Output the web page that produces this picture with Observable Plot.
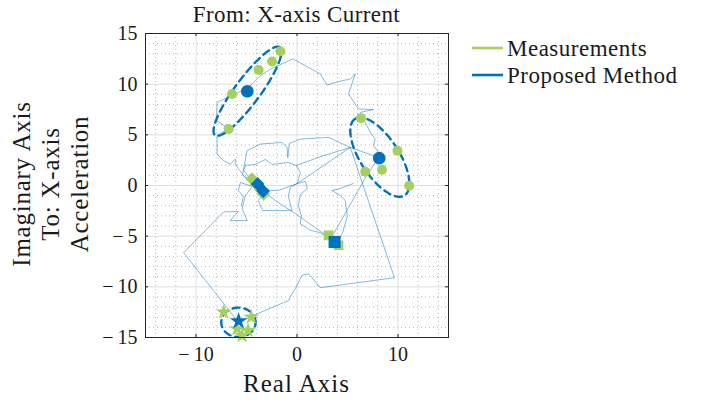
<!DOCTYPE html>
<html>
<head>
<meta charset="utf-8">
<script src="https://cdn.jsdelivr.net/npm/d3@7"></script>
<script src="https://cdn.jsdelivr.net/npm/@observablehq/plot@0.6"></script>
<style>
  html, body { margin: 0; padding: 0; background: #fff; }
  #chart { width: 713px; height: 405px; }
</style>
</head>
<body>
<div id="chart"></div>
<script>
// Frequency-response trace (real, imaginary) drawn as several polyline pieces
const tracePieces = [
  // upper-left arm
  [[8.07,3.26],[7.58,3.93],[7.74,4.58],[7.25,5.24],[6.92,5.90],[6.26,7.22],[7.58,7.49],[6.09,7.55],
   [5.10,9.03],[5.77,11.01],[5.27,10.51],[4.11,10.26],[2.97,9.92],[2.30,11.01],[-0.40,12.50],
   [-1.48,12.0],[-2.47,11.57],[-3.63,10.85],[-4.79,9.69],[-6.43,8.87],[-7.91,8.21],[-7.98,6.43],
   [-6.77,5.61],[-7.91,4.95],[-7.91,3.10],[-7.26,2.44],[-6.60,2.11],[-6.10,2.60],[-6.10,2.11],
   [-5.78,1.61],[-5.11,0.79],[-4.42,0.49]],
  // loop over the centre to the right-hand cluster, then down to the square cluster
  [[-4.12,0.20],[-5.31,1.48],[-4.95,3.43],[-3.63,4.09],[-1.48,4.25],[-0.99,3.76],[-0.91,2.77],
   [-0.76,4.15],[0.33,4.58],[3.13,4.75],[5.27,3.76],[8.07,2.77],[6.85,0.89],[3.62,-4.78]],
  // square cluster back through the centre, large outer excursions, star cluster
  [[3.62,-5.44],[-0.17,-2.77],[-2.15,-1.48],[-3.43,-0.49],[-1.85,-0.49],[0.03,0.20],[5.27,3.76],
   [9.65,-9.10],[2.30,-10.09],[1.15,-8.70],[0.49,-8.87],[-0.17,-10.19],[-0.49,-10.68],[-0.83,-11.35],
   [-4.42,-12.86],[-5.78,-13.52],[-11.22,-6.63],[-7.26,-2.60],[-5.81,-2.57],[-6.60,-3.46],
   [-4.92,-3.46],[-5.44,-2.27],[-5.11,-0.99],[-4.42,-0.10]],
  // inner loop around the diamond cluster
  [[-3.83,-0.49],[-5.41,1.09],[-5.11,1.98],[-4.12,2.08],[-3.14,2.57],[-2.44,2.08],[-0.86,2.27],
   [-0.07,1.98],[0.33,1.29],[0.03,0.20],[-0.66,-0.20],[-0.86,-1.09],[-0.49,-2.44],[-1.75,-2.47],
   [-3.43,-2.47],[-3.83,-1.48],[-3.43,-0.99]],
  [[-0.07,1.98],[2.50,2.90],[5.27,3.76]],
  // curls leading into the square cluster
  [[0.03,0.20],[0.82,0.40],[1.02,-0.30],[0.33,-0.89],[0.13,-1.98],[0.43,-2.97],[0.33,-3.76],
   [1.32,-4.42],[2.30,-4.65],[3.10,-5.14],[3.69,-6.03],[4.08,-6.13]],
  [[5.57,0.20],[4.28,-0.30],[3.46,-0.49],[4.28,-0.99],[4.78,-1.48],[4.98,-3.07],[4.48,-4.75],[4.08,-5.44]],
  // small wiggle left of the diamond cluster
  [[-4.42,-0.10],[-5.61,0.30],[-5.81,-0.49],[-5.31,-1.09],[-5.51,-1.98]]
];

// Measured poles, grouped by marker symbol
const measCircle  = [[-1.65,13.25],[-2.47,12.23],[-3.80,11.41],[-6.43,9.03],[-6.77,5.57],
                     [6.33,6.63],[9.95,3.43],[6.76,1.35],[8.41,1.55],[11.11,-0.03]];
const measDiamond = [[-4.45,0.65],[-4.05,0.15],[-3.60,-0.40],[-3.30,-0.85]];
const measSquare  = [[3.13,-4.92],[4.11,-5.90]];
const measStar    = [[-7.26,-12.49],[-4.52,-12.99],[-5.93,-14.14],[-4.85,-14.31],[-5.44,-14.80]];

// Estimated poles from the proposed method
const estCircle  = [[-4.92,9.30],[8.14,2.70]];
const estDiamond = [[-3.90,0.15],[-3.35,-0.55]];
const estSquare  = [[3.72,-5.57]];
const estStar    = [[-5.78,-13.38]];

// Uncertainty ellipses: centre x, centre y, semi-axis a, semi-axis b, rotation (deg)
const ellCx    = [-4.90, 8.20, -5.80];
const ellCy    = [9.30, 2.80, -13.50];
const ellA     = [5.40, 4.50, 1.70];
const ellB     = [1.25, 1.90, 1.45];
const ellAngle = [53.5, 123, 0];

const xMajor = [-10, 0, 10];
const yMajor = [-15, -10, -5, 0, 5, 10, 15];
const xMinor = [-14, -12, -8, -6, -4, -2, 2, 4, 6, 8, 12, 14];
const yMinor = d3.range(-15, 16).filter(v => v % 5 !== 0);

const green = "#a6cf5d";
const blue = "#0072BD";
const serif = "'Liberation Serif', 'DejaVu Serif', serif";
const tickFmt = d => (d < 0 ? "\u2212\u2009" : "") + Math.abs(d);

const trace = tracePieces.flatMap((pts, i) => pts.map(([x, y]) => ({x, y, piece: i})));
const toRows = arr => arr.map(([x, y]) => ({x, y}));

const ellipses = ellCx.flatMap((cx, i) => {
  const t = (ellAngle[i] * Math.PI) / 180;
  return d3.range(0, 361, 3).map(deg => {
    const u = (deg * Math.PI) / 180;
    const ex = ellA[i] * Math.cos(u), ey = ellB[i] * Math.sin(u);
    return {x: cx + ex * Math.cos(t) - ey * Math.sin(t),
            y: ellCy[i] + ex * Math.sin(t) + ey * Math.cos(t), id: i};
  });
});

const chart = Plot.plot({
  width: 713,
  height: 405,
  marginLeft: 145,
  marginRight: 265,
  marginTop: 33,
  marginBottom: 68,
  style: {fontFamily: serif, fontSize: "20px", color: "#1a1a1a", background: "#fff"},
  x: {domain: [-15, 15], ticks: xMajor, tickSize: 0, tickPadding: 9, tickFormat: tickFmt, label: null},
  y: {domain: [-15, 15], ticks: yMajor, tickSize: 0, tickPadding: 8, tickFormat: tickFmt, label: null},
  marks: [
    Plot.ruleX(xMinor, {stroke: "#b5b5b5", strokeDasharray: "1,3", strokeWidth: 1}),
    Plot.ruleY(yMinor, {stroke: "#b5b5b5", strokeDasharray: "1,3", strokeWidth: 1}),
    Plot.ruleX(xMajor, {stroke: "#dedede", strokeWidth: 1}),
    Plot.ruleY(yMajor, {stroke: "#dedede", strokeWidth: 1}),
    Plot.line(trace, {x: "x", y: "y", z: "piece", stroke: blue, strokeOpacity: 0.55, strokeWidth: 0.9, clip: true}),
    Plot.line(ellipses, {x: "x", y: "y", z: "id", stroke: blue, strokeWidth: 2.4, strokeDasharray: "7,5", clip: true}),
    Plot.dot(toRows(measCircle), {x: "x", y: "y", r: 5, fill: green, symbol: "circle"}),
    Plot.dot(toRows(measDiamond), {x: "x", y: "y", r: 6, fill: green, symbol: "diamond2"}),
    Plot.dot(toRows(measSquare), {x: "x", y: "y", r: 5.5, fill: green, symbol: "square"}),
    Plot.dot(toRows(measStar), {x: "x", y: "y", r: 5, fill: green, symbol: "star"}),
    Plot.dot(toRows(estCircle), {x: "x", y: "y", r: 6.3, fill: blue, symbol: "circle"}),
    Plot.dot(toRows(estDiamond), {x: "x", y: "y", r: 6.2, fill: blue, symbol: "diamond2"}),
    Plot.dot(toRows(estSquare), {x: "x", y: "y", r: 6.8, fill: blue, symbol: "square"}),
    Plot.dot(toRows(estStar), {x: "x", y: "y", r: 5.5, fill: blue, symbol: "star"}),
    // inward ticks on all four sides
    Plot.ruleX(xMajor, {y1: -15, y2: -14.7, stroke: "#262626"}),
    Plot.ruleX(xMajor, {y1: 15, y2: 14.7, stroke: "#262626"}),
    Plot.ruleY(yMajor, {x1: -15, x2: -14.7, stroke: "#262626"}),
    Plot.ruleY(yMajor, {x1: 15, x2: 14.7, stroke: "#262626"}),
    Plot.frame({stroke: "#262626", strokeWidth: 1})
  ]
});

const svg = d3.select(chart);
const cx = 145 + (713 - 145 - 265) / 2;

function addText(x, y, str, size, spacing, extra) {
  const t = svg.append("text")
    .attr("x", x).attr("y", y)
    .attr("text-anchor", extra && extra.anchor || "middle")
    .attr("font-family", serif).attr("font-size", size)
    .attr("letter-spacing", spacing)
    .attr("fill", "#1a1a1a").text(str);
  if (extra && extra.transform) t.attr("transform", extra.transform);
  return t;
}

addText(cx, 22, "From: X-axis Current", 23, 0.4);
addText(cx, 392, "Real Axis", 25, 1);

const yLabelLines = ["Imaginary Axis", "To: X-axis", "Acceleration"];
yLabelLines.forEach((line, i) => {
  addText(0, 0, line, 25, 0.75, {transform: `translate(${30 + i * 29},184) rotate(-90)`});
});

const legendItems = [["Measurements", green], ["Proposed Method", blue]];
legendItems.forEach(([label, color], i) => {
  const y = 48 + i * 27;
  svg.append("line").attr("x1", 472).attr("x2", 503).attr("y1", y).attr("y2", y)
    .attr("stroke", color).attr("stroke-width", 2.6);
  addText(507, y + 7.5, label, 23, 0.5, {anchor: "start"});
});

document.getElementById("chart").appendChild(chart);
</script>
</body>
</html>
